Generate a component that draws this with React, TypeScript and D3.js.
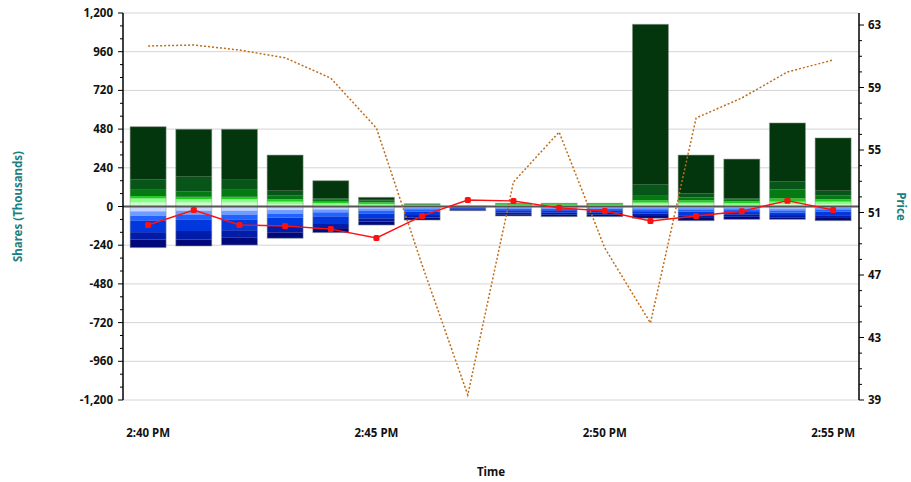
import * as d3 from 'd3'

// minutes after 2:40 PM
const minutes = [0, 1, 2, 3, 4, 5, 6, 7, 8, 9, 10, 11, 12, 13, 14, 15]

// buy volume (thousands) per layer, from zero outwards: pale, light, bright, green, dark, darkest
const buyLayers = [
  [25, 25, 15, 43, 61, 326],
  [25, 20, 15, 32, 93, 294],
  [25, 20, 15, 48, 62, 309],
  [15, 15, 15, 25, 28, 221],
  [10, 10, 10, 12, 9, 109],
  [8, 8, 10, 10, 10, 11],
  [4, 4, 3, 3, 1, 2],
  [1, 1, 1, 0, 0, 0],
  [5, 5, 4, 3, 1, 2],
  [5, 5, 4, 3, 1, 2],
  [5, 5, 4, 3, 1, 2],
  [12, 12, 15, 32, 67, 992],
  [12, 12, 15, 18, 25, 237],
  [10, 10, 12, 10, 9, 243],
  [15, 15, 20, 57, 47, 364],
  [15, 15, 15, 25, 28, 327],
]

// sell volume (thousands) per layer, from zero outwards: pale, light, blue, royal, deep, navy
const sellLayers = [
  [30, 28, 31, 70, 45, 51],
  [26, 24, 30, 72, 52, 41],
  [26, 24, 30, 67, 47, 45],
  [22, 22, 25, 52, 39, 37],
  [18, 18, 25, 42, 31, 28],
  [12, 13, 20, 28, 21, 21],
  [8, 9, 14, 22, 16, 15],
  [2, 2, 4, 6, 6, 6],
  [6, 7, 10, 14, 11, 11],
  [6, 7, 10, 16, 12, 12],
  [6, 7, 10, 16, 12, 12],
  [8, 9, 12, 16, 14, 14],
  [8, 10, 14, 22, 17, 17],
  [8, 9, 12, 19, 16, 16],
  [12, 12, 14, 15, 14, 13],
  [8, 10, 14, 22, 17, 17],
]

const closePrice = [50.2, 51.16, 50.2, 50.14, 49.94, 49.37, 50.78, 51.8, 51.74, 51.3, 51.1, 50.46, 50.78, 51.08, 51.76, 51.16]
const refPrice = [61.66, 61.72, 61.4, 60.9, 59.6, 56.4, 47.64, 39.32, 52.95, 56.15, 48.73, 43.93, 57.05, 58.33, 60.0, 60.76]

const shareTicks = [-1200, -960, -720, -480, -240, 0, 240, 480, 720, 960, 1200]
const priceTicks = [39, 43, 47, 51, 55, 59, 63]

const BUY_COLORS = ['#ccffcc', '#88ff88', '#22cc22', '#067a12', '#08551a', '#03360c']
const SELL_COLORS = ['#c4d6ff', '#6f9cff', '#2262ff', '#0038dd', '#001ca8', '#00087a']

const W = 911
const H = 482
const LEFT = 123
const RIGHT = 859
const TOP = 13
const BOTTOM = 400
const FONT = '"Noto Sans", "Open Sans", sans-serif'

const minuteDate = (m: number) => new Date(2024, 0, 1, 14, 40 + m, 0)

export default function App() {
  const x = d3
    .scaleTime()
    .domain([new Date(2024, 0, 1, 14, 39, 27), new Date(2024, 0, 1, 14, 55, 34)])
    .range([LEFT, RIGHT])
  const yL = d3.scaleLinear().domain([-1200, 1200]).range([BOTTOM, TOP])
  const yR = d3.scaleLinear().domain([39, 63.77]).range([BOTTOM, TOP])

  const fmt = d3
    .formatLocale({ decimal: '.', thousands: ',', grouping: [3], currency: ['$', ''], minus: '-' })
    .format(',')
  const timeFmt = d3.timeFormat('%-I:%M %p')
  const xTicks = x.ticks(d3.timeMinute.every(5)!)

  const leftMinor = d3.range(-1200, 1201, 80).filter((v) => v % 240 !== 0)
  const rightMinor = d3.range(39, 64, 1).filter((v) => (v - 39) % 4 !== 0)

  const barW = 36

  const priceLine = d3
    .line<number>()
    .x((_, i) => x(minuteDate(minutes[i])))
    .y((d) => yR(d))

  return (
    <svg
      width={W}
      height={H}
      style={{ position: 'fixed', left: 0, top: 0, background: '#fff' }}
      fontFamily={FONT}
    >
      <rect x={0} y={0} width={W} height={H} fill="#fff" />

      {/* grid */}
      {shareTicks.map((t) => (
        <line key={t} x1={LEFT} x2={RIGHT} y1={yL(t)} y2={yL(t)} stroke="#d4d4d4" strokeWidth={1} />
      ))}

      {/* bars */}
      {minutes.map((m, i) => {
        const cx = x(minuteDate(m))
        let cum = 0
        const buys = buyLayers[i].map((v, k) => {
          const y0 = cum
          cum += v
          if (v <= 0) return null
          return (
            <rect
              key={'b' + k}
              x={cx - barW / 2}
              y={yL(cum)}
              width={barW}
              height={yL(y0) - yL(cum)}
              fill={BUY_COLORS[k]}
            />
          )
        })
        const buyTotal = cum
        cum = 0
        const sells = sellLayers[i].map((v, k) => {
          const y0 = cum
          cum += v
          if (v <= 0) return null
          return (
            <rect
              key={'s' + k}
              x={cx - barW / 2}
              y={yL(-y0)}
              width={barW}
              height={yL(-cum) - yL(-y0)}
              fill={SELL_COLORS[k]}
            />
          )
        })
        const sellTotal = cum
        return (
          <g key={m}>
            {buys}
            {sells}
            <rect
              x={cx - barW / 2}
              y={yL(buyTotal)}
              width={barW}
              height={yL(-sellTotal) - yL(buyTotal)}
              fill="none"
              stroke="#8a9a8a"
              strokeOpacity={0.5}
              strokeWidth={1}
            />
          </g>
        )
      })}

      {/* zero line */}
      <line x1={LEFT} x2={RIGHT} y1={yL(0)} y2={yL(0)} stroke="#555" strokeWidth={2} />

      {/* price lines */}
      <path
        d={priceLine(refPrice) ?? ''}
        fill="none"
        stroke="#c06c18"
        strokeWidth={1.5}
        strokeDasharray="2,2"
      />
      <path d={priceLine(closePrice) ?? ''} fill="none" stroke="#ff1010" strokeWidth={1.4} />
      {closePrice.map((p, i) => (
        <rect
          key={i}
          x={x(minuteDate(minutes[i])) - 3}
          y={yR(p) - 3}
          width={6}
          height={6}
          rx={1.5}
          fill="#ff1010"
        />
      ))}

      {/* left axis */}
      <line x1={LEFT} x2={LEFT} y1={TOP} y2={BOTTOM} stroke="#000" strokeWidth={1.5} />
      {shareTicks.map((t) => (
        <g key={t}>
          <line x1={LEFT - 5} x2={LEFT} y1={yL(t)} y2={yL(t)} stroke="#000" />
          <text
            x={LEFT - 10}
            y={yL(t)}
            dy="0.35em"
            textAnchor="end"
            fontSize={11.5}
            fontWeight="bold"
            fill="#111"
          >
            {fmt(t)}
          </text>
        </g>
      ))}
      {leftMinor.map((t) => (
        <line key={t} x1={LEFT - 3} x2={LEFT} y1={yL(t)} y2={yL(t)} stroke="#000" />
      ))}
      <text
        transform={`translate(22,${(TOP + BOTTOM) / 2}) rotate(-90)`}
        textAnchor="middle"
        fontSize={11.5}
        fontWeight="bold"
        fill="#1a8080"
      >
        Shares (Thousands)
      </text>

      {/* right axis */}
      <line x1={RIGHT} x2={RIGHT} y1={TOP} y2={BOTTOM} stroke="#000" strokeWidth={1.5} />
      {priceTicks.map((t) => (
        <g key={t}>
          <line x1={RIGHT} x2={RIGHT + 5} y1={yR(t)} y2={yR(t)} stroke="#000" />
          <text
            x={RIGHT + 9}
            y={yR(t)}
            dy="0.35em"
            textAnchor="start"
            fontSize={11.5}
            fontWeight="bold"
            fill="#111"
          >
            {t}
          </text>
        </g>
      ))}
      {rightMinor.map((t) => (
        <line key={t} x1={RIGHT} x2={RIGHT + 3} y1={yR(t)} y2={yR(t)} stroke="#000" />
      ))}
      <text
        transform={`translate(897,${(TOP + BOTTOM) / 2}) rotate(90)`}
        textAnchor="middle"
        fontSize={11.5}
        fontWeight="bold"
        fill="#1a8080"
      >
        Price
      </text>

      {/* bottom axis */}
      {xTicks.map((t) => (
        <text
          key={t.getTime()}
          x={x(t)}
          y={437}
          textAnchor="middle"
          fontSize={11.5}
          fontWeight="bold"
          fill="#111"
        >
          {timeFmt(t)}
        </text>
      ))}
      <text x={(LEFT + RIGHT) / 2} y={476} textAnchor="middle" fontSize={11.5} fontWeight="bold" fill="#111">
        Time
      </text>
    </svg>
  )
}
